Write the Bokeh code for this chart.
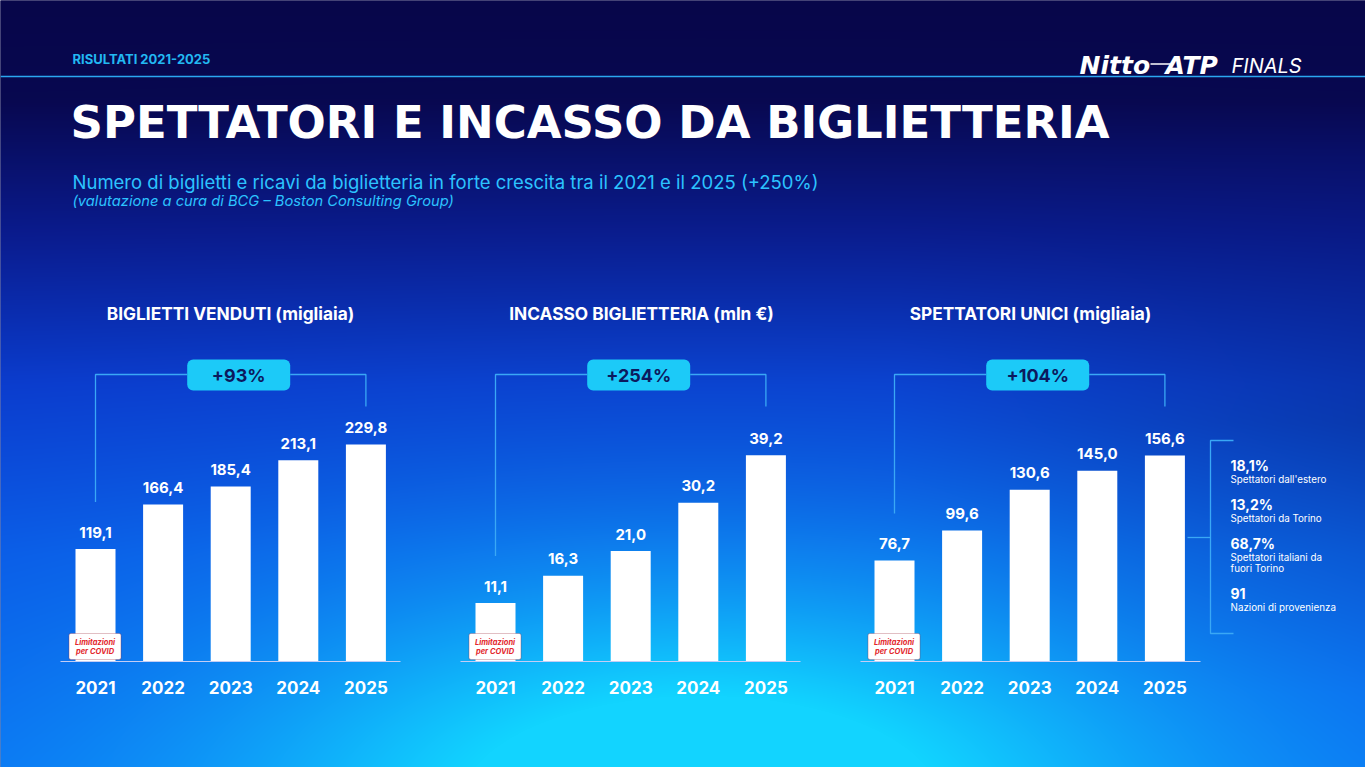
import numpy as np
from bokeh.plotting import figure
from bokeh.models import Range1d, BoxAnnotation
from bokeh.core.properties import value
from bokeh.embed import file_html
from bokeh.resources import INLINE

# ---------------- data ----------------
years = ["2021", "2022", "2023", "2024", "2025"]
biglietti = [119.1, 166.4, 185.4, 213.1, 229.8]
incasso = [11.1, 16.3, 21.0, 30.2, 39.2]
spettatori = [76.7, 99.6, 130.6, 145.0, 156.6]
chart_titles = ["BIGLIETTI VENDUTI (migliaia)", "INCASSO BIGLIETTERIA (mln €)", "SPETTATORI UNICI (migliaia)"]
growth = ["+93%", "+254%", "+104%"]
side_values = ["18,1%", "13,2%", "68,7%", "91"]
side_labels = [["Spettatori dall'estero"], ["Spettatori da Torino"],
               ["Spettatori italiani da", "fuori Torino"], ["Nazioni di provenienza"]]

W, H = 1365, 767
FONT = "Inter"

def Y(px):
    return H - px

p = figure(width=W, height=H, x_range=Range1d(0, W), y_range=Range1d(0, H),
           output_backend="svg", toolbar_location=None, min_border=0,
           x_axis_location=None, y_axis_location=None, outline_line_color=None,
           background_fill_color="#07064a", border_fill_color="#07064a")
p.xgrid.visible = False
p.ygrid.visible = False

# ---------------- background gradient ----------------
PAD = 4
HH, WW = H + 2 * PAD, W + 2 * PAD
yy, xx = np.mgrid[0:HH, 0:WW].astype(float)
yy -= PAD
xx -= PAD
t = np.clip(yy / H, 0, 1)
stops_t = [0.0, 0.13, 0.3, 0.5, 0.72, 1.0]
stops_c = np.array([[7, 6, 74], [8, 8, 80], [10, 26, 140], [11, 58, 205], [11, 86, 230], [11, 106, 242]], float)
base = np.zeros((HH, WW, 3))
for k in range(3):
    base[..., k] = np.interp(t, stops_t, stops_c[:, k])
dark = np.clip((xx - 900) / 465, 0, 1) * np.clip(1 - np.abs(t - 0.55) / 0.35, 0, 1) * 0.18
base = base * (1 - dark[..., None])
glow_c = np.array([18, 212, 255], float)
g = np.exp(-((xx - 700) / 430) ** 2 - ((yy - 800) / 190) ** 2) * 0.95
g2 = np.exp(-((xx - 700) / 650) ** 2 - ((yy - 820) / 330) ** 2) * 0.35
gw = np.clip(g + g2, 0, 1)[..., None]
img = base * (1 - gw) + glow_c * gw
rgba = np.zeros((HH, WW), dtype=np.uint32)
view = rgba.view(dtype=np.uint8).reshape((HH, WW, 4))
view[..., 0] = img[..., 0].astype(np.uint8)
view[..., 1] = img[..., 1].astype(np.uint8)
view[..., 2] = img[..., 2].astype(np.uint8)
view[..., 3] = 255
p.image_rgba(image=[np.flipud(rgba)], x=-PAD, y=-PAD, dw=WW, dh=HH, level="image")

# ---------------- header ----------------
CYAN = "#22b8f2"
p.segment(x0=0, y0=Y(76), x1=W, y1=Y(76), line_color="#2aa6f0", line_width=1.5)
p.text(x=72, y=Y(58), text=["RISULTATI 2021-2025"], text_color=CYAN, text_font=value(FONT),
       text_font_style="bold", text_font_size="13px", text_baseline="middle")
p.text(x=1079, y=Y(65), text=["Nitto"], text_color="white", text_font=value("DejaVu Sans"),
       text_font_style="bold italic", text_font_size="25px", text_baseline="alphabetic")
p.segment(x0=1150, y0=Y(63.5), x1=1170, y1=Y(63.5), line_color="white", line_width=1.5)
p.text(x=1165, y=Y(65), text=["ATP"], text_color="white", text_font=value("DejaVu Sans"),
       text_font_style="bold italic", text_font_size="25px", text_baseline="alphabetic")
p.text(x=1231, y=Y(65), text=["FINALS"], text_color="white", text_font=value(FONT),
       text_font_style="italic", text_font_size="20px", text_baseline="alphabetic")

p.text(x=70, y=Y(122), text=["SPETTATORI E INCASSO DA BIGLIETTERIA"], text_color="white",
       text_font=value("DejaVu Sans"), text_font_style="bold", text_font_size="45px",
       text_baseline="middle")
p.text(x=72, y=Y(181), text=["Numero di biglietti e ricavi da biglietteria in forte crescita tra il 2021 e il 2025 (+250%)"],
       text_color="#2cc3ff", text_font=value(FONT), text_font_size="18.5px", text_baseline="middle")
p.text(x=72, y=Y(200), text=["(valutazione a cura di BCG – Boston Consulting Group)"],
       text_color="#2cc3ff", text_font=value(FONT), text_font_style="italic", text_font_size="14.7px",
       text_baseline="middle")

# ---------------- charts ----------------
charts = [
    dict(vals=biglietti, c0=95.0, scale=0.944, left=60, right=400, head=230),
    dict(vals=incasso, c0=495.0, scale=5.26, left=460, right=800, head=641),
    dict(vals=spettatori, c0=894.0, scale=1.316, left=860, right=1200, head=1030),
]
SPACING = 67.6
BASE_PX = 661
BAR_W = 40
LINE_C = "#3aa8f5"

for k, ch in enumerate(charts):
    s, c0 = ch["scale"], ch["c0"]
    xr, yr = f"x{k}", f"y{k}"
    p.extra_x_ranges[xr] = Range1d(-c0 / SPACING, (W - c0) / SPACING)
    p.extra_y_ranges[yr] = Range1d(-Y(BASE_PX) / s, (H - Y(BASE_PX)) / s)
    idx = list(range(len(years)))
    vals = ch["vals"]
    labels = [f"{v:.1f}".replace(".", ",") for v in vals]
    mid = c0 + SPACING * 2

    # heading
    p.text(x=ch["head"], y=Y(313), text=[chart_titles[k]], text_color="white", text_font=value(FONT),
           text_font_style="bold", text_font_size="17.3px", text_align="center", text_baseline="middle")

    # bars
    p.vbar(x=idx, top=vals, bottom=0, width=BAR_W / SPACING, fill_color="white", line_color=None,
           x_range_name=xr, y_range_name=yr)
    p.text(x=idx, y=vals, text=labels, text_color="white", text_font=value(FONT),
           text_font_style="bold", text_font_size="15px", text_align="center", text_baseline="middle",
           y_offset=-17, x_range_name=xr, y_range_name=yr)
    p.text(x=idx, y=[Y(687)] * len(idx), text=years, text_color="white", text_font=value(FONT),
           text_font_style="bold", text_font_size="17px", text_align="center", text_baseline="middle",
           x_range_name=xr)

    # baseline
    p.segment(x0=ch["left"], y0=Y(BASE_PX), x1=ch["right"], y1=Y(BASE_PX),
              line_color="#c4cdf5", line_width=1.2)

    # growth bracket
    bx0, bx1 = mid + 8 - 51.5, mid + 8 + 51.5
    x_left = c0
    x_right = c0 + SPACING * 4
    y_left_end = Y(BASE_PX) + vals[0] * s + 47
    p.multi_line(xs=[[x_left, x_left, bx0], [bx1, x_right, x_right]],
                 ys=[[y_left_end, Y(374), Y(374)], [Y(374), Y(374), Y(406)]],
                 line_color=LINE_C, line_width=1.3)
    p.add_layout(BoxAnnotation(left=bx0, right=bx1, top=Y(359), bottom=Y(390),
                               fill_color="#1ccaf8", fill_alpha=1.0, line_color=None,
                               border_radius=6))
    p.text(x=(bx0 + bx1) / 2, y=Y(374.5), text=[growth[k]], text_color="#0c1a5e", text_font=value(FONT),
           text_font_style="bold", text_font_size="18px", text_align="center", text_baseline="middle",
           level="overlay")

    # covid label
    cx = c0
    p.add_layout(BoxAnnotation(left=cx - 26.5, right=cx + 25.5, top=Y(633), bottom=Y(659),
                               fill_color="white", fill_alpha=1.0, line_color="#9c2a3c",
                               line_width=1.2, border_radius=2))
    p.text(x=[cx - 0.5, cx - 0.5], y=[Y(641.5), Y(650.5)], text=["Limitazioni", "per COVID"],
           text_color="#e3262b", text_font=value(FONT), text_font_style="bold italic",
           text_font_size="7.5px", text_align="center", text_baseline="middle", level="overlay")

# ---------------- side notes ----------------
p.multi_line(xs=[[1233, 1210, 1210, 1233], [1187, 1210]],
             ys=[[Y(440), Y(440), Y(633), Y(633)], [Y(537), Y(537)]],
             line_color=LINE_C, line_width=1.3)
val_y = [465, 504, 543, 593]
for v, labs, vy in zip(side_values, side_labels, val_y):
    p.text(x=1230, y=Y(vy), text=[v], text_color="white", text_font=value(FONT),
           text_font_style="bold", text_font_size="14px", text_baseline="middle")
    for j, lab in enumerate(labs):
        p.text(x=1230, y=Y(vy + 14 + 11 * j), text=[lab], text_color="white", text_font=value(FONT),
               text_font_size="9.8px", text_baseline="middle")

open("out.html", "w").write(file_html(p, INLINE))
